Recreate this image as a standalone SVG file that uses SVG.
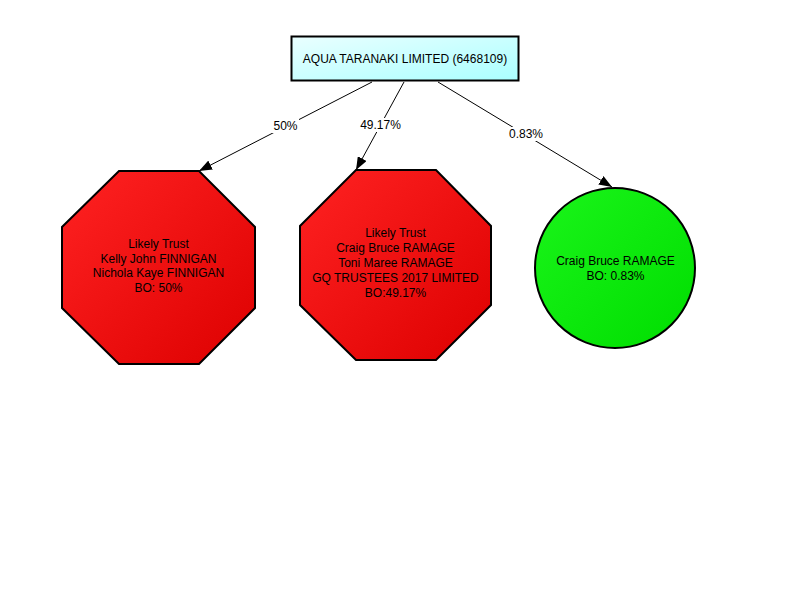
<svg xmlns="http://www.w3.org/2000/svg" width="800" height="600" viewBox="0 0 800 600">
  <defs>
    <linearGradient id="gRoot" x1="0" y1="0" x2="1" y2="1">
      <stop offset="0" stop-color="#eaffff"/>
      <stop offset="1" stop-color="#aaffff"/>
    </linearGradient>
    <linearGradient id="gRed" x1="0" y1="0" x2="1" y2="1">
      <stop offset="0" stop-color="#ff2222"/>
      <stop offset="1" stop-color="#dd0000"/>
    </linearGradient>
    <linearGradient id="gGreen" x1="0" y1="0" x2="1" y2="1">
      <stop offset="0" stop-color="#1af51a"/>
      <stop offset="1" stop-color="#00dd00"/>
    </linearGradient>
    <marker id="arrow" markerUnits="userSpaceOnUse" markerWidth="14" markerHeight="10" refX="13" refY="5" orient="auto">
      <path d="M0,0 L13,5 L0,10 Z" fill="#000"/>
    </marker>
    <style>
      text { font-family: "Liberation Sans", Arial, sans-serif; font-size: 12px; fill: #000; text-anchor: middle; }
      .edge { stroke: #000; stroke-width: 1; fill: none; marker-end: url(#arrow); }
      .lblbg { fill: #fff; }
      .node { stroke: #000; stroke-width: 2; }
    </style>
  </defs>
  <rect width="800" height="600" fill="#fff"/>

  <g id="connectors">
    <line class="edge" x1="372" y1="82" x2="199" y2="171"/>
    <line class="edge" x1="404" y1="82" x2="356" y2="170"/>
    <line class="edge" x1="438" y1="82" x2="612" y2="187"/>
    <rect class="lblbg" x="272" y="119" width="27" height="14"/>
    <text x="285.5" y="130">50%</text>
    <rect class="lblbg" x="359" y="118" width="43" height="14"/>
    <text x="380.5" y="129">49.17%</text>
    <rect class="lblbg" x="508" y="127" width="36" height="14"/>
    <text x="526" y="138">0.83%</text>
  </g>

  <g id="root">
    <rect class="node" x="291.5" y="36.5" width="227" height="44" fill="url(#gRoot)"/>
    <text x="405" y="63">AQUA TARANAKI LIMITED (6468109)</text>
  </g>

  <g id="trust1">
    <polygon class="node" points="119,171 199,171 255,227 255,308 199,364 119,364 62,308 62,227" fill="url(#gRed)"/>
    <text x="158.5" y="248">Likely Trust</text>
    <text x="158.5" y="263">Kelly John FINNIGAN</text>
    <text x="158.5" y="277">Nichola Kaye FINNIGAN</text>
    <text x="158.5" y="292">BO: 50%</text>
  </g>

  <g id="trust2">
    <polygon class="node" points="356,170 436,170 491,226 491,305 436,360 356,360 300,305 300,226" fill="url(#gRed)"/>
    <text x="395.5" y="237">Likely Trust</text>
    <text x="395.5" y="252">Craig Bruce RAMAGE</text>
    <text x="395.5" y="267">Toni Maree RAMAGE</text>
    <text x="395.5" y="282">GQ TRUSTEES 2017 LIMITED</text>
    <text x="395.5" y="297">BO:49.17%</text>
  </g>

  <g id="person">
    <circle class="node" cx="615" cy="268" r="80" fill="url(#gGreen)"/>
    <text x="615.5" y="265">Craig Bruce RAMAGE</text>
    <text x="615.5" y="280">BO: 0.83%</text>
  </g>
</svg>
